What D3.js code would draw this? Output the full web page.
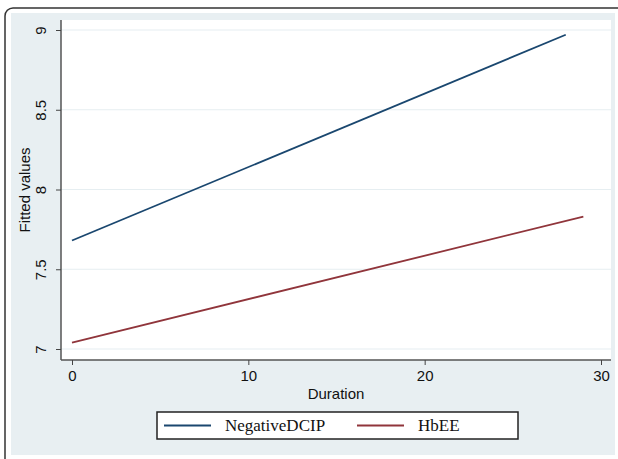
<!DOCTYPE html>
<html><head><meta charset="utf-8">
<script src="https://cdn.jsdelivr.net/npm/d3@7"></script>
<style>body{margin:0;background:#fff}svg{display:block}</style>
</head><body>
<script>
const seriesNames = ["NegativeDCIP", "HbEE"];
const seriesColors = ["#1a476f", "#90353b"];
const negX = [0, 28];
const negY = [7.68, 8.97];
const hbX = [0, 29];
const hbY = [7.04, 7.83];
const xTicks = [0, 10, 20, 30];
const yTicks = [7, 7.5, 8, 8.5, 9];

const W = 618, H = 459;
const svg = d3.select("body").append("svg").attr("width", W).attr("height", H);

// outer frame
svg.append("rect").attr("x", 5).attr("y", 8).attr("width", 640).attr("height", 470)
  .attr("rx", 8).attr("fill", "#fff").attr("stroke", "#333").attr("stroke-width", 1.5);
svg.append("rect").attr("x", 11).attr("y", 13).attr("width", 604).attr("height", 442)
  .attr("fill", "#e8eff2");

const pl = 61, pr = 611, pt = 20, pb = 360;
svg.append("rect").attr("x", pl).attr("y", pt).attr("width", pr - pl).attr("height", pb - pt).attr("fill", "#fff");

const x = d3.scaleLinear().domain([0, 30]).range([72, 601]);
const y = d3.scaleLinear().domain([7, 9]).range([349, 30]);

const font = "Liberation Sans, Arial, sans-serif";

// gridlines
svg.append("g").selectAll("line").data(yTicks).join("line")
  .attr("x1", pl).attr("x2", pr).attr("y1", d => y(d)).attr("y2", d => y(d))
  .attr("stroke", "#e6eef1").attr("stroke-width", 1.2);

// axes
const xa = svg.append("g").attr("transform", `translate(0,${pb})`)
  .call(d3.axisBottom(x).tickValues(xTicks).tickSize(5).tickPadding(5).tickFormat(d3.format("d")));
xa.select(".domain").attr("d", `M${pl},0H${pr}`).attr("stroke", "#555").attr("stroke-width", 1.5);
xa.selectAll(".tick line").attr("stroke", "#444");
xa.selectAll(".tick text").attr("font-family", font).attr("font-size", 15).attr("fill", "#111");

const ya = svg.append("g").attr("transform", `translate(${pl},0)`)
  .call(d3.axisLeft(y).tickValues(yTicks).tickSize(5).tickPadding(0).tickFormat(d => String(d)));
ya.select(".domain").attr("d", `M0,${pt}V${pb}`).attr("stroke", "#555").attr("stroke-width", 1.5);
ya.selectAll(".tick line").attr("stroke", "#444");
ya.selectAll(".tick text")
  .attr("font-family", font).attr("font-size", 15).attr("fill", "#111")
  .attr("text-anchor", "middle").attr("x", 0).attr("dy", 0)
  .attr("transform", "translate(-15,0) rotate(-90)");

// axis titles
svg.append("text").attr("x", 336).attr("y", 399).attr("text-anchor", "middle")
  .attr("font-family", font).attr("font-size", 15).attr("fill", "#111")
  .text("Duration");
svg.append("text").attr("transform", "translate(30,190) rotate(-90)").attr("text-anchor", "middle")
  .attr("font-family", font).attr("font-size", 15).attr("fill", "#111")
  .text("Fitted values");

// lines
const line = d3.line().x(d => x(d[0])).y(d => y(d[1]));
const data = [d3.zip(negX, negY), d3.zip(hbX, hbY)];
svg.append("g").selectAll("path").data(data).join("path")
  .attr("d", line).attr("fill", "none")
  .attr("stroke", (d, i) => seriesColors[i]).attr("stroke-width", 1.8);

// legend
svg.append("rect").attr("x", 157).attr("y", 412).attr("width", 361).attr("height", 27)
  .attr("fill", "#fff").attr("stroke", "#222").attr("stroke-width", 1.5);
const lx = [164, 357];
const lg = svg.append("g").selectAll("g").data(seriesNames).join("g");
lg.append("line").attr("x1", (d, i) => lx[i]).attr("x2", (d, i) => lx[i] + 47)
  .attr("y1", 425.5).attr("y2", 425.5).attr("stroke", (d, i) => seriesColors[i]).attr("stroke-width", 1.8);
lg.append("text").attr("x", (d, i) => lx[i] + 61).attr("y", 431)
  .attr("font-family", "Liberation Serif, Times New Roman, serif").attr("font-size", 17).attr("fill", "#111")
  .text(d => d);
</script>
</body></html>
